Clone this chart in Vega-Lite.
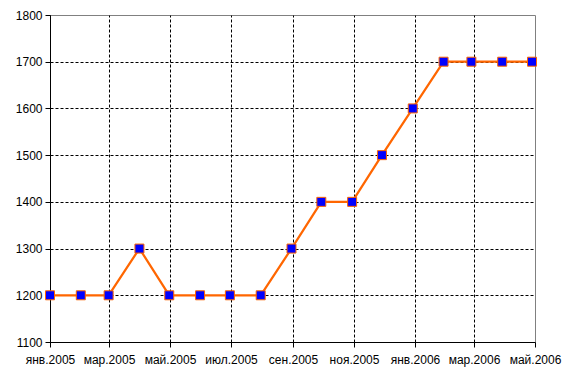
{
  "$schema": "https://vega.github.io/schema/vega-lite/v6.json",
  "width": 485,
  "height": 327,
  "autosize": "none",
  "padding": {"left": 50, "top": 15, "right": 30, "bottom": 43},
  "background": "white",
  "config": {
    "view": {"stroke": "#808080", "strokeWidth": 1, "fill": "white"},
    "axis": {
      "labelFont": "Liberation Sans",
      "labelFontSize": 12,
      "labelColor": "black",
      "domainColor": "black",
      "domainWidth": 1,
      "tickColor": "black",
      "tickSize": 5,
      "gridColor": "black",
      "gridDash": [3, 2],
      "gridWidth": 1,
      "title": null
    }
  },
  "resolve": {"scale": {"x": "independent"}, "axis": {"x": "independent"}},
  "layer": [
    {
      "data": {"values": [
        {"d": "2005-01-01"}, {"d": "2005-03-01"}, {"d": "2005-05-01"}, {"d": "2005-07-01"},
        {"d": "2005-09-01"}, {"d": "2005-11-01"}, {"d": "2006-01-01"}, {"d": "2006-03-01"}, {"d": "2006-05-01"}
      ]},
      "mark": {"type": "rule", "opacity": 0},
      "encoding": {
        "x": {
          "field": "d",
          "type": "temporal",
          "scale": {"type": "utc", "domain": [
            {"year": 2005, "month": 1, "date": 1, "utc": true},
            {"year": 2006, "month": 5, "date": 1, "utc": true}
          ], "nice": false},
          "axis": {
            "values": [
              {"year": 2005, "month": 1, "date": 1, "utc": true},
              {"year": 2005, "month": 3, "date": 1, "utc": true},
              {"year": 2005, "month": 5, "date": 1, "utc": true},
              {"year": 2005, "month": 7, "date": 1, "utc": true},
              {"year": 2005, "month": 9, "date": 1, "utc": true},
              {"year": 2005, "month": 11, "date": 1, "utc": true},
              {"year": 2006, "month": 1, "date": 1, "utc": true},
              {"year": 2006, "month": 3, "date": 1, "utc": true},
              {"year": 2006, "month": 5, "date": 1, "utc": true}
            ],
            "labelExpr": "['янв','фев','мар','апр','май','июн','июл','авг','сен','окт','ноя','дек'][utcmonth(datum.value)] + '.' + utcyear(datum.value)",
            "labelAngle": 0,
            "labelFlush": false,
            "labelOverlap": false,
            "labelPadding": 7,
            "grid": true,
            "gridOpacity": {"condition": {"test": "datum.value >= utc(2006,3,15)", "value": 0}, "value": 1}
          }
        }
      }
    },
    {
      "data": {"values": [
        {"d": "2005-01-01", "v": 1200},
        {"d": "2005-02-01", "v": 1200},
        {"d": "2005-03-01", "v": 1200},
        {"d": "2005-04-01", "v": 1300},
        {"d": "2005-05-01", "v": 1200},
        {"d": "2005-06-01", "v": 1200},
        {"d": "2005-07-01", "v": 1200},
        {"d": "2005-08-01", "v": 1200},
        {"d": "2005-09-01", "v": 1300},
        {"d": "2005-10-01", "v": 1400},
        {"d": "2005-11-01", "v": 1400},
        {"d": "2005-12-01", "v": 1500},
        {"d": "2006-01-01", "v": 1600},
        {"d": "2006-02-01", "v": 1700},
        {"d": "2006-03-01", "v": 1700},
        {"d": "2006-04-01", "v": 1700},
        {"d": "2006-05-01", "v": 1700}
      ]},
      "mark": {
        "type": "line",
        "color": "#FF6600",
        "strokeWidth": 2.25,
        "clip": false,
        "point": {"shape": "square", "size": 81, "filled": true, "fill": "#0000FF", "stroke": "#FF6600", "strokeWidth": 1, "opacity": 1}
      },
      "encoding": {
        "x": {
          "field": "d",
          "type": "temporal",
          "scale": {"type": "utc", "domain": [
            {"year": 2005, "month": 1, "date": 1, "utc": true},
            {"year": 2006, "month": 5, "date": 4, "utc": true}
          ], "nice": false},
          "axis": null
        },
        "y": {
          "field": "v",
          "type": "quantitative",
          "scale": {"domain": [1100, 1800], "nice": false, "zero": false},
          "axis": {
            "values": [1100, 1200, 1300, 1400, 1500, 1600, 1700, 1800],
            "format": "d",
            "labelPadding": 3,
            "grid": true,
            "gridOpacity": {"condition": {"test": "datum.value >= 1800", "value": 0}, "value": 1}
          }
        }
      }
    }
  ]
}
